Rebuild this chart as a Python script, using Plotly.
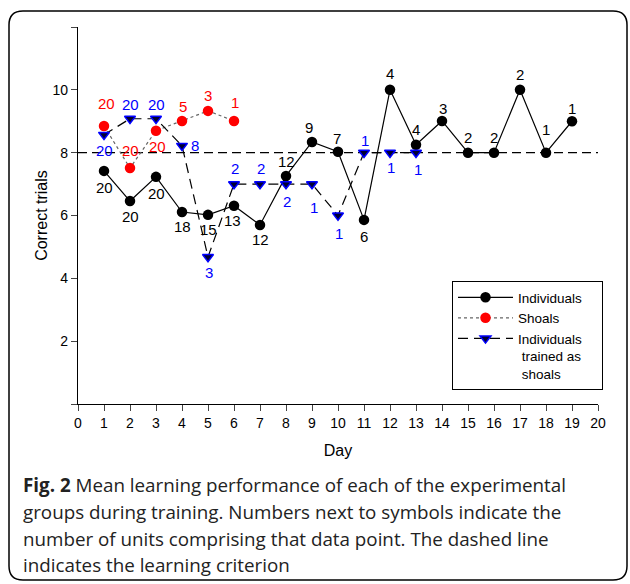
import plotly.graph_objects as go

# ---------------- data ----------------
days_ind = list(range(1, 20))
ind_vals = [7.42, 6.46, 7.23, 6.11, 6.02, 6.31, 5.70, 7.26, 8.34, 8.03, 5.86, 10.0, 8.25, 9.01, 8.0, 8.0, 10.0, 8.0, 9.0]
ind_n = ["20", "20", "20", "18", "15", "13", "12", "12", "9", "7", "6", "4", "4", "3", "2", "2", "2", "1", "1"]

days_sh = list(range(1, 7))
sh_vals = [8.85, 7.51, 8.70, 9.01, 9.33, 9.01]
sh_n = ["20", "20", "20", "5", "3", "1"]

days_tr = list(range(1, 14))
tr_vals = [8.57, 9.08, 9.08, 8.22, 4.68, 7.0, 7.0, 7.0, 7.0, 6.0, 8.0, 8.0, 8.0]
tr_n = ["20", "20", "20", "8", "3", "2", "2", "2", "1", "1", "1", "1", "1"]

criterion = 8
x_ticks = list(range(0, 21))
y_ticks = [0, 2, 4, 6, 8, 10, 12]
y_ticktext = ["", "2", "4", "6", "8", "10", ""]

caption_lines = [
    "<b>Fig. 2</b> Mean learning performance of each of the experimental",
    "groups during training. Numbers next to symbols indicate the",
    "number of units comprising that data point. The dashed line",
    "indicates the learning criterion",
]

# label placement (pixel offsets of each count label from its symbol: dx, dy up)
ind_off = [(0, -17), (0, -15), (0, -17), (0, -14), (0, -15), (-2, -15), (0, -15), (0, 14), (-3, 14),
           (-1, 13), (0, -17), (0, 16), (0, 15), (1, 12), (0, 15), (0, 15), (0, 15), (0, 23), (0, 13)]
sh_off = [(2, 22), (0, 18), (1, -16), (1, 14), (0, 15), (1, 18)]
tr_off = [(0, -16), (0, 14), (0, 14), (13, 0), (1, -16), (1, 16), (1, 16), (1, -17), (2, -23),
          (1, -18), (1, 12), (1, -15), (2, -17)]

# ---------------- figure ----------------
W, H = 630, 584
L, R, T, B = 78, 32, 27, 180
pw, ph = W - L - R, H - T - B
LABEL_FONT = "Liberation Sans, Arial, sans-serif"
PAD = "\u00a0" * 4  # invisible padding to widen the legend box

def px(x):
    return (x - L) / pw

def py(y):
    return (H - B - y) / ph

fig = go.Figure()

# criterion line
fig.add_trace(go.Scatter(x=[0, 20], y=[criterion, criterion], mode="lines",
                         line=dict(color="black", width=1.3, dash="9px,5px"),
                         showlegend=False, hoverinfo="skip"))

fig.add_trace(go.Scatter(
    x=days_ind, y=ind_vals, mode="lines+markers", name="Individuals" + PAD,
    line=dict(color="black", width=1.2),
    marker=dict(symbol="circle", size=10.5, color="black"),
))
fig.add_trace(go.Scatter(
    x=days_sh, y=sh_vals, mode="lines+markers", name="Shoals",
    line=dict(color="#666666", width=1.2, dash="dot"),
    marker=dict(symbol="circle", size=10.5, color="#ff0000"),
))
fig.add_trace(go.Scatter(
    x=days_tr, y=tr_vals, mode="lines+markers", name="Individuals<br> trained as<br> shoals",
    line=dict(color="black", width=1.2, dash="10px,6px"),
    marker=dict(symbol="triangle-down", size=9.5, color="#000033", line=dict(color="#0000ff", width=1.5)),
))

annotations = []

def add_labels(xs, ys, labels, offs, color):
    for x, y, t, (dx, dy) in zip(xs, ys, labels, offs):
        annotations.append(dict(x=x, y=y, xref="x", yref="y", text=t, showarrow=False,
                                xshift=dx, yshift=dy, xanchor="center", yanchor="middle",
                                font=dict(family=LABEL_FONT, size=15, color=color)))

add_labels(days_ind, ind_vals, ind_n, ind_off, "black")
add_labels(days_sh, sh_vals, sh_n, sh_off, "#ff0000")
add_labels(days_tr, tr_vals, tr_n, tr_off, "#0000ff")

# rounded frame
x0, x1 = px(9), px(627)
y0, y1 = py(580), py(11)
rx = 14 / pw
ry = 14 / ph
path = (f"M {x0+rx},{y1} L {x1-rx},{y1} Q {x1},{y1} {x1},{y1-ry} "
        f"L {x1},{y0+ry} Q {x1},{y0} {x1-rx},{y0} L {x0+rx},{y0} "
        f"Q {x0},{y0} {x0},{y0+ry} L {x0},{y1-ry} Q {x0},{y1} {x0+rx},{y1} Z")
fig.add_shape(type="path", path=path, xref="paper", yref="paper",
              line=dict(color="black", width=1.5), layer="below")

cap_y = [485, 512, 539, 565]
for line, yy in zip(caption_lines, cap_y):
    annotations.append(dict(text=line, xref="paper", yref="paper", x=px(21), y=py(yy),
                            xanchor="left", yanchor="middle", showarrow=False,
                            font=dict(family="Open Sans", size=18.8, color="#222222")))

fig.update_layout(
    width=W, height=H,
    margin=dict(l=L, r=R, t=T, b=B, pad=0),
    paper_bgcolor="white", plot_bgcolor="white",
    font=dict(family=LABEL_FONT, size=14, color="black"),
    annotations=annotations,
    legend=dict(x=px(452), y=py(281), xanchor="left", yanchor="top",
                bordercolor="black", borderwidth=1, bgcolor="white", valign="top",
                font=dict(family=LABEL_FONT, size=13.5, color="black"),
                tracegroupgap=0, itemwidth=55),
    xaxis=dict(range=[0, 20], tickvals=x_ticks, ticks="outside", ticklen=6,
               showline=True, linecolor="black", linewidth=1.2, showgrid=False, zeroline=False,
               tickfont=dict(size=14), title=dict(text="Day", font=dict(size=16), standoff=14)),
    yaxis=dict(range=[0, 12], tickvals=y_ticks, ticktext=y_ticktext, ticks="outside", ticklen=6,
               showline=True, linecolor="black", linewidth=1.2, showgrid=False, zeroline=False,
               tickfont=dict(size=14), title=dict(text="Correct trials", font=dict(size=16), standoff=0)),
)

fig.write_html("out.html", post_script="document.body.style.margin='0';",
               config={"displayModeBar": False})
